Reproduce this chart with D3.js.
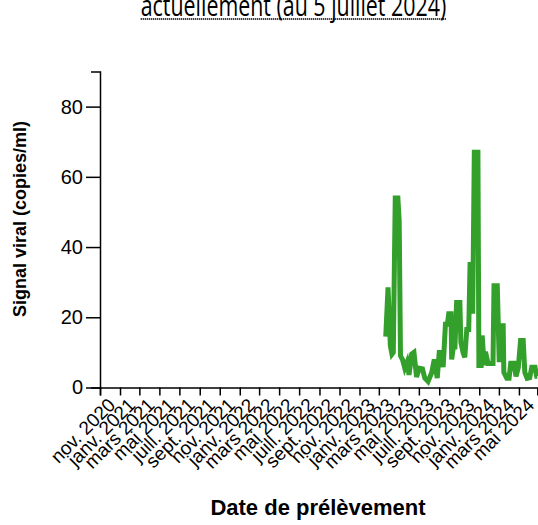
<!DOCTYPE html>
<html lang="fr">
<head>
<meta charset="utf-8">
<script src="https://cdn.jsdelivr.net/npm/d3@7"></script>
<style>
  body { margin: 0; background: #fff; }
  svg { display: block; }
</style>
</head>
<body>
<svg id="chart" width="538" height="525"></svg>
<script>
// Prélèvements : dates d'échantillonnage et signal viral mesuré (copies/ml)
const sampleDates = [
  "2023-03-22", "2023-03-29", "2023-04-05", "2023-04-10", "2023-04-14",
  "2023-04-20", "2023-04-28", "2023-05-02", "2023-05-06", "2023-05-12",
  "2023-05-19", "2023-05-26", "2023-06-01", "2023-06-09", "2023-06-16",
  "2023-06-24", "2023-07-02", "2023-07-12", "2023-07-19", "2023-07-29",
  "2023-08-09", "2023-08-17", "2023-08-26", "2023-09-01", "2023-09-08",
  "2023-09-13", "2023-09-20", "2023-09-26", "2023-09-30", "2023-10-07",
  "2023-10-09", "2023-10-14", "2023-10-19", "2023-10-24", "2023-11-03",
  "2023-11-06", "2023-11-13", "2023-11-18", "2023-11-24", "2023-11-30",
  "2023-12-04", "2023-12-09", "2023-12-12", "2023-12-17", "2023-12-28",
  "2023-12-31", "2024-01-07", "2024-01-10", "2024-01-16", "2024-01-20",
  "2024-01-28", "2024-02-06", "2024-02-12", "2024-02-15", "2024-02-25",
  "2024-03-02", "2024-03-06", "2024-03-14", "2024-03-16", "2024-03-25",
  "2024-04-01", "2024-04-06", "2024-04-16", "2024-04-22", "2024-04-29",
  "2024-05-06", "2024-05-14", "2024-05-19", "2024-05-26", "2024-06-03",
  "2024-06-09", "2024-06-19", "2024-06-24", "2024-06-26"
];
const viralSignal = [
  14.5, 28.5, 12.0, 9.5, 10.0,
  54.0, 54.0, 47.5, 9.0, 8.0,
  5.5, 7.2, 3.6, 9.5, 10.0,
  3.0, 5.5, 5.3, 2.7, 1.7,
  4.2, 8.0, 2.7, 10.0, 10.0,
  5.8, 18.0, 18.0, 21.0, 21.0,
  8.0, 11.5, 11.5, 24.2, 24.2,
  12.9, 9.8, 8.6, 16.5, 16.5,
  35.0, 35.0, 21.0, 67.0, 67.0,
  6.3, 6.3, 14.8, 6.3, 10.2,
  6.8, 6.8, 6.8, 29.0, 29.0,
  7.2, 17.6, 17.6, 4.3, 2.6,
  2.6, 6.9, 6.9, 3.2, 5.6,
  13.4, 13.4, 4.3, 2.6, 2.8,
  5.8, 5.8, 3.2, 3.2
];

// Graduations de l'axe des dates (tous les deux mois)
const tickDates = [
  "2020-11-01", "2021-01-01", "2021-03-01", "2021-05-01", "2021-07-01",
  "2021-09-01", "2021-11-01", "2022-01-01", "2022-03-01", "2022-05-01",
  "2022-07-01", "2022-09-01", "2022-11-01", "2023-01-01", "2023-03-01",
  "2023-05-01", "2023-07-01", "2023-09-01", "2023-11-01", "2024-01-01",
  "2024-03-01", "2024-05-01"
];
const tickLabels = [
  "nov. 2020", "janv. 2021", "mars 2021", "mai 2021", "juill. 2021",
  "sept. 2021", "nov. 2021", "janv. 2022", "mars 2022", "mai 2022",
  "juill. 2022", "sept. 2022", "nov. 2022", "janv. 2023", "mars 2023",
  "mai 2023", "juill. 2023", "sept. 2023", "nov. 2023", "janv. 2024",
  "mars 2024", "mai 2024"
];
const yTicks = [0, 20, 40, 60, 80];
const yMax = 90;
const periodStart = "2020-11-01";

const parse = d3.utcParse("%Y-%m-%d");
const points = sampleDates.map((d, i) => ({ date: parse(d), value: viralSignal[i] }));

const svg = d3.select("#chart");
const font = "'Liberation Sans', Arial, Helvetica, sans-serif";

const x = d3.scaleUtc()
  .domain([parse(periodStart), d3.max(points, p => p.date)])
  .range([100, 537.3]);

const y = d3.scaleLinear()
  .domain([0, yMax])
  .range([387.5, 71.5]);

// Titre (seule sa dernière ligne tient dans la zone visible)
const title = svg.append("text")
  .attr("transform", "translate(293.5,16) scale(1,1.4)")
  .attr("text-anchor", "middle")
  .attr("font-family", "'Open Sans', sans-serif")
  .attr("font-size", 21.4)
  .attr("fill", "#000")
  .text("actuellement (au 5 juillet 2024)");
const tw = title.node().getComputedTextLength();
svg.append("line")
  .attr("x1", 293.5 - tw / 2).attr("x2", 293.5 + tw / 2)
  .attr("y1", 19).attr("y2", 19)
  .attr("stroke", "#000")
  .attr("stroke-width", 2)
  .attr("stroke-dasharray", "1,1");

// Axe des abscisses
const gx = svg.append("g")
  .attr("transform", `translate(0,${y(0)})`)
  .call(d3.axisBottom(x)
    .tickValues(tickDates.map(parse))
    .tickFormat((d, i) => tickLabels[i])
    .tickSizeInner(8)
    .tickSizeOuter(8)
    .tickPadding(3));
gx.selectAll("text")
  .attr("font-family", font)
  .attr("font-size", 19)
  .attr("fill", "#000")
  .style("text-anchor", "end")
  .attr("dx", "-0.1em")
  .attr("transform", "rotate(-45)");
gx.selectAll("path, line").attr("stroke", "#000").attr("stroke-width", 1.5);

// Axe des ordonnées
const gy = svg.append("g")
  .attr("transform", "translate(100,0)")
  .call(d3.axisLeft(y)
    .tickValues(yTicks)
    .tickSizeInner(14)
    .tickSizeOuter(9)
    .tickPadding(3));
gy.selectAll("text")
  .attr("font-family", font)
  .attr("font-size", 20)
  .attr("fill", "#000");
gy.selectAll("path, line").attr("stroke", "#000").attr("stroke-width", 1.5);

// Courbe du signal viral
svg.append("path")
  .datum(points)
  .attr("fill", "none")
  .attr("stroke", "#33a02c")
  .attr("stroke-width", 5)
  .attr("stroke-linejoin", "miter")
  .attr("d", d3.line().x(p => x(p.date)).y(p => y(p.value)));

// Titres des axes
svg.append("text")
  .attr("x", 318)
  .attr("y", 515)
  .attr("text-anchor", "middle")
  .attr("font-family", font)
  .attr("font-weight", "bold")
  .attr("font-size", 22)
  .text("Date de prélèvement");

svg.append("text")
  .attr("transform", "translate(26,219) rotate(-90)")
  .attr("text-anchor", "middle")
  .attr("font-family", font)
  .attr("font-weight", "bold")
  .attr("font-size", 18)
  .text("Signal viral (copies/ml)");
</script>
</body>
</html>
